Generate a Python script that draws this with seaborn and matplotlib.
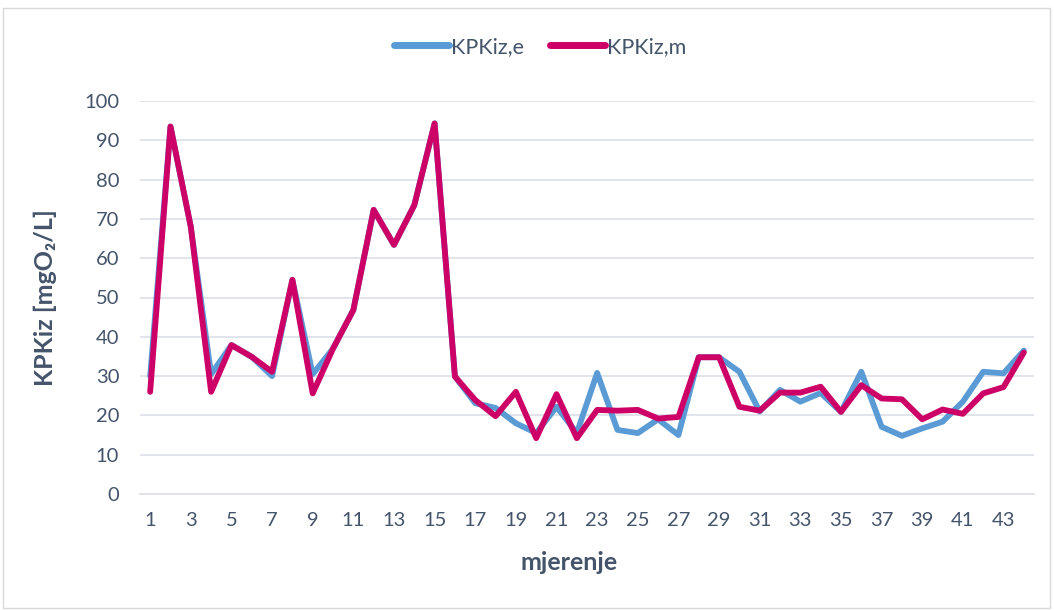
import matplotlib
matplotlib.use("Agg")
import matplotlib.pyplot as plt
from matplotlib.patches import Rectangle
from matplotlib.ticker import FixedLocator
import seaborn as sns
import pandas as pd

# measurements 1..44
mjerenje = list(range(1, 45))
kpkiz_e = [30.0, 93.5, 68.0, 30.5, 37.9, 34.9, 30.0, 54.5, 30.5, 37.0,
           46.8, 72.3, 63.4, 73.5, 94.3, 29.9, 23.1, 21.9, 18.0, 15.5,
           22.2, 15.5, 30.8, 16.3, 15.5, 19.0, 15.0, 34.8, 34.8, 31.1,
           21.0, 26.5, 23.5, 25.7, 20.9, 31.1, 17.1, 14.8, 16.7, 18.4,
           23.5, 31.1, 30.7, 36.5]
kpkiz_m = [26.0, 93.5, 68.0, 26.0, 37.9, 34.9, 31.1, 54.5, 25.6, 37.0,
           46.8, 72.3, 63.4, 73.5, 94.3, 29.9, 23.9, 19.8, 26.0, 14.2,
           25.4, 14.2, 21.4, 21.2, 21.4, 19.2, 19.6, 34.8, 34.8, 22.2,
           21.2, 25.8, 25.8, 27.3, 20.9, 27.7, 24.3, 24.1, 19.0, 21.5,
           20.4, 25.6, 27.2, 36.0]
series_names = ["KPKiz,e", "KPKiz,m"]
series_colors = ["#5B9BD5", "#CC0066"]

text_color = "#44546A"
grid_color = "#DEE2E8"

df = pd.DataFrame({"mjerenje": mjerenje, series_names[0]: kpkiz_e, series_names[1]: kpkiz_m})
long_df = df.melt(id_vars="mjerenje", var_name="serija", value_name="KPKiz")

sns.set_style("white")
plt.rcParams["font.family"] = ["Lato", "DejaVu Sans"]

fig = plt.figure(figsize=(10.54, 6.10), dpi=100)
ax = fig.add_axes([140 / 1054, 1 - 494 / 610, 894 / 1054, 393 / 610])

sns.lineplot(data=long_df, x="mjerenje", y="KPKiz", hue="serija",
             palette=dict(zip(series_names, series_colors)),
             linewidth=4.2, ax=ax, legend=True)

ax.set_xlim(0.5, 44.5)
ax.set_ylim(0, 100)
ax.set_yticks(range(0, 101, 10))
ax.set_xticks(range(1, 45, 2))
ax.xaxis.set_minor_locator(FixedLocator([k + 0.5 for k in range(0, 45)]))
ax.grid(axis="y", color=grid_color, linewidth=1.3)
ax.set_axisbelow(True)

for side in ["top", "right", "left"]:
    ax.spines[side].set_visible(False)
ax.spines["bottom"].set_color(grid_color)
ax.spines["bottom"].set_linewidth(1.3)

ax.tick_params(axis="y", length=0, pad=15, labelsize=14.5, labelcolor=text_color)
ax.tick_params(axis="x", which="major", length=0, pad=13, labelsize=14.5, labelcolor=text_color)
ax.tick_params(axis="x", which="minor", length=4, width=1.3, color=grid_color, direction="out")

ax.set_xlabel("mjerenje", fontsize=18, fontweight="bold", color=text_color)
ax.xaxis.label.set_va("center")
ax.xaxis.set_label_coords((569 - 140) / 894, (494 - 563) / 393)
ax.set_ylabel("KPKiz [mgO₂/L]", fontsize=18, fontweight="bold", color=text_color)
ax.yaxis.label.set_va("center")
ax.yaxis.set_label_coords((45 - 140) / 894, 0.5)

handles, labels = ax.get_legend_handles_labels()
leg = ax.legend(handles, labels, loc="center", bbox_to_anchor=(540 / 1054, 1 - 47 / 610),
                bbox_transform=fig.transFigure, ncol=2, frameon=False, fontsize=15.5,
                handlelength=2.55, handletextpad=0.1, columnspacing=1.2)
for t in leg.get_texts():
    t.set_color(text_color)
for line in leg.get_lines():
    line.set_linewidth(5)
    line.set_solid_capstyle("round")

fig.patches.append(Rectangle((3 / 1054, 2 / 610), 1047 / 1054, 600 / 610,
                             transform=fig.transFigure, fill=False,
                             edgecolor="#D9D9D9", linewidth=1))

fig.savefig("out.png", dpi=100, facecolor="white")
